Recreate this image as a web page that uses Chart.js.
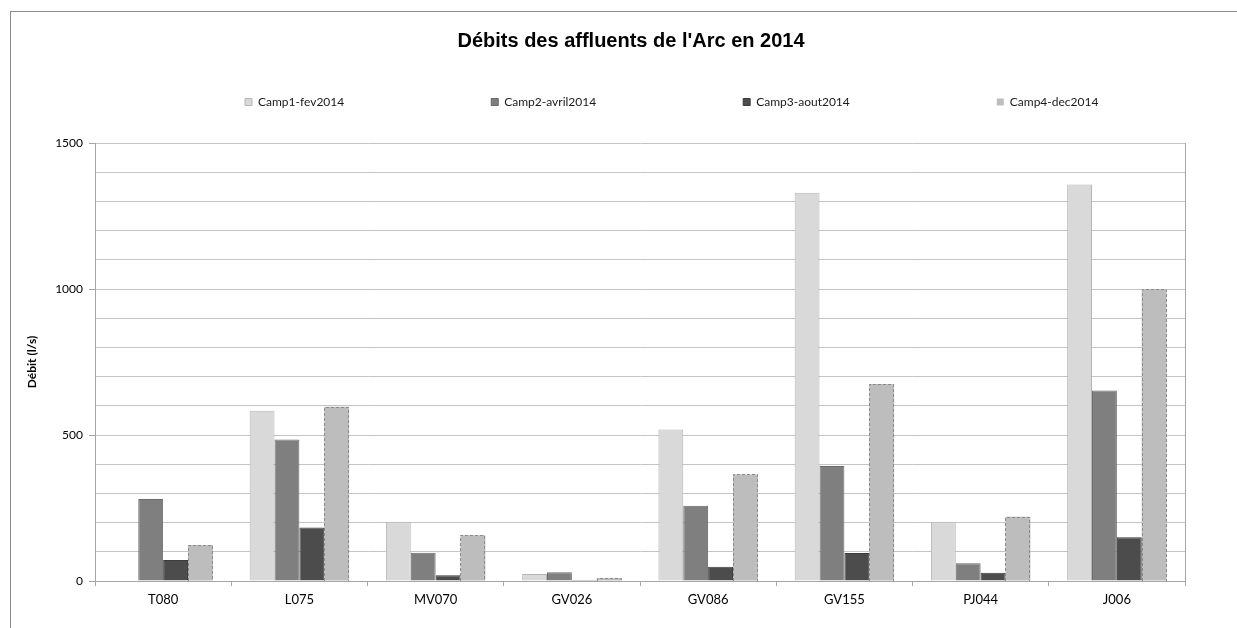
<!DOCTYPE html>
<html>
<head>
  <meta charset="utf-8">
  <title>Débits des affluents de l'Arc en 2014</title>
  <script src="https://cdn.jsdelivr.net/npm/chart.js@4.4.1/dist/chart.umd.min.js"></script>
  <style>
    html, body { margin: 0; padding: 0; background: #fff; }
    #frame {
      position: absolute; left: 10px; top: 11px;
      width: 1227px; height: 617px;
      border-top: 1px solid #8c8c8c; border-left: 1px solid #8c8c8c;
    }
    #chart { display: block; }
  </style>
</head>
<body>
  <div id="frame"><canvas id="chart" width="1226" height="616"></canvas></div>
  <script>
    // stations
    var stations = ["T080", "L075", "MV070", "GV026", "GV086", "GV155", "PJ044", "J006"];

    // débits (l/s) per campaign
    var camp1 = [0, 583, 203, 24, 519, 1330, 203, 1358];
    var camp2 = [281, 485, 97, 30, 258, 394, 61, 652];
    var camp3 = [72, 183, 20, 3, 49, 96, 28, 150];
    var camp4 = [123, 597, 157, 10, 365, 675, 220, 1000];

    var campNames = ["Camp1-fev2014", "Camp2-avril2014", "Camp3-aout2014", "Camp4-dec2014"];

    // y axis
    var yMin = 0, yMax = 1500, yStep = 100, yLabelStep = 500;

    var fontMain = "Lato, 'Open Sans', sans-serif";
    var legendGap = 147;

    // right edge of the plot area + dashed outline of the last series
    var frameBox = {
      id: "frameBox",
      beforeDatasetsDraw: function(chart) {
        var a = chart.chartArea, ctx = chart.ctx;
        ctx.save();
        ctx.strokeStyle = "#a6a6a6";
        ctx.lineWidth = 1;
        ctx.beginPath();
        ctx.moveTo(Math.round(a.right) + 0.5, a.top);
        ctx.lineTo(Math.round(a.right) + 0.5, a.bottom);
        ctx.stroke();
        ctx.restore();
      },
      afterDatasetsDraw: function(chart) {
        var ctx = chart.ctx;
        var meta = chart.getDatasetMeta(3);
        ctx.save();
        ctx.strokeStyle = "#8a8a8a";
        ctx.lineWidth = 1;
        ctx.setLineDash([3, 2]);
        meta.data.forEach(function(bar) {
          var p = bar.getProps(["x", "y", "base", "width"], true);
          var l = Math.round(p.x - p.width / 2) + 0.5;
          var r = Math.round(p.x + p.width / 2) - 0.5;
          var t = Math.round(p.y) + 0.5;
          var b = Math.round(p.base);
          ctx.beginPath();
          ctx.moveTo(l, b);
          ctx.lineTo(l, t);
          ctx.lineTo(r, t);
          ctx.lineTo(r, b);
          ctx.stroke();
        });
        ctx.restore();
      }
    };

    // place title and legend like the original
    var placeHeader = {
      id: "placeHeader",
      afterLayout: function(chart) {
        var t = chart.titleBlock;
        t.left += 33; t.right += 33;
        var lg = chart.legend;
        var start = (lg.left + legendGap + lg.right - lg.lineWidths[0]) / 2;
        var dx = 234 - start;
        lg.left += dx; lg.right += dx;
        // the legend clips to its box, so only move its top edge
        lg.top = 90 - 6 - legendGap;
      }
    };

    var ctx = document.getElementById("chart").getContext("2d");
    var chart = new Chart(ctx, {
      type: "bar",
      data: {
        labels: stations,
        datasets: [
          { label: campNames[0], data: camp1, backgroundColor: "#d9d9d9", borderColor: "#b5b5b5", borderWidth: 1 },
          { label: campNames[1], data: camp2, backgroundColor: "#7f7f7f", borderColor: "#6a6a6a", borderWidth: 1 },
          { label: campNames[2], data: camp3, backgroundColor: "#4c4c4c", borderColor: "#3c3c3c", borderWidth: 1 },
          { label: campNames[3], data: camp4, backgroundColor: "#bdbdbd", borderColor: "#8a8a8a", borderWidth: 0 }
        ]
      },
      options: {
        responsive: false,
        animation: false,
        layout: { padding: { top: 17, right: 52, bottom: 0, left: 0 } },
        datasets: { bar: { barPercentage: 1, categoryPercentage: 0.73 } },
        plugins: {
          title: {
            display: true,
            text: "Débits des affluents de l'Arc en 2014",
            color: "#000",
            font: { family: "'Liberation Sans', Arial, sans-serif", size: 20, weight: "bold" },
            padding: { top: 0, bottom: 70 }
          },
          legend: {
            display: true,
            position: "top",
            maxHeight: 20,
            labels: {
              color: "#1a1a1a",
              font: { family: fontMain, size: 12 },
              boxWidth: 7,
              boxHeight: 7,
              padding: legendGap
            }
          },
          tooltip: { enabled: false }
        },
        scales: {
          x: {
            afterFit: function(scale) { scale.height = 47; },
            grid: {
              offset: true,
              drawOnChartArea: false,
              drawTicks: true,
              tickLength: 5,
              tickColor: "#a6a6a6"
            },
            border: { color: "#a6a6a6" },
            ticks: { color: "#000", font: { family: fontMain, size: 13 }, padding: 6, maxRotation: 0 }
          },
          y: {
            min: yMin,
            max: yMax,
            afterFit: function(scale) { scale.width = 84; },
            grid: {
              color: "#c4c4c4",
              tickLength: 6,
              tickColor: function(c) {
                return c.tick && c.tick.value % yLabelStep === 0 ? "#a6a6a6" : "rgba(0,0,0,0)";
              }
            },
            border: { color: "#a6a6a6" },
            ticks: {
              stepSize: yStep,
              autoSkip: false,
              color: "#000",
              font: { family: fontMain, size: 12 },
              padding: 6,
              callback: function(v) { return v % yLabelStep === 0 ? v : ""; }
            },
            title: {
              display: true,
              text: "Débit (l/s)",
              color: "#000",
              font: { family: fontMain, size: 12, weight: "bold" },
              padding: { top: 14, bottom: 0 }
            }
          }
        }
      },
      plugins: [frameBox, placeHeader]
    });
  </script>
</body>
</html>
